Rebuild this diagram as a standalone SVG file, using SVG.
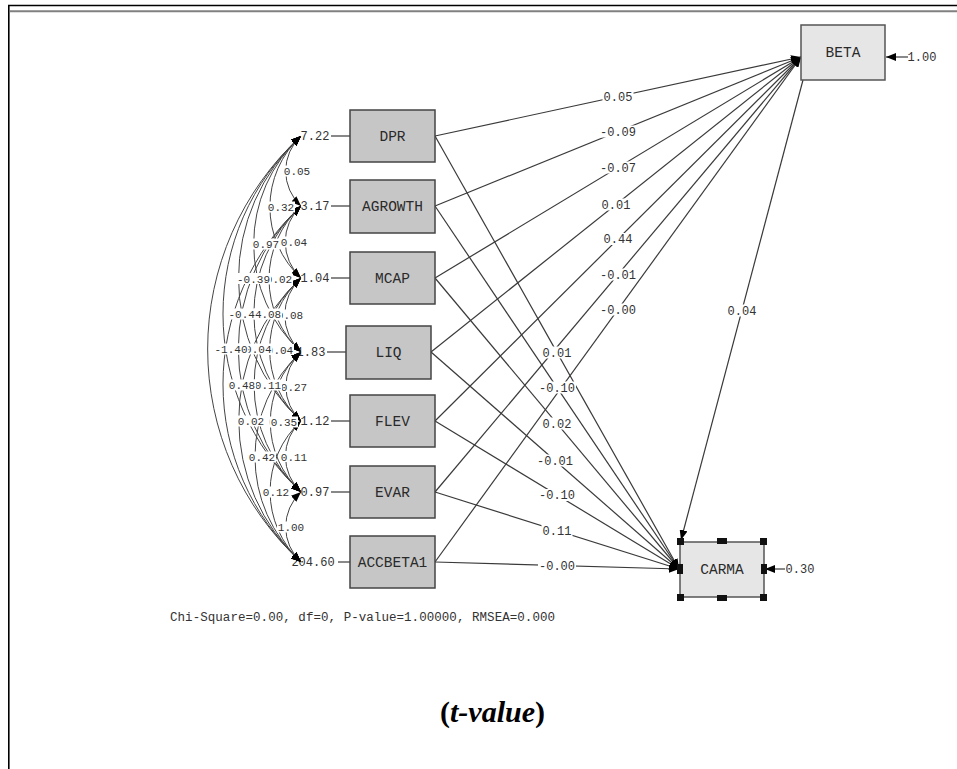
<svg xmlns="http://www.w3.org/2000/svg" width="957" height="769" viewBox="0 0 957 769">
<style>
.exo{fill:#c6c6c6;stroke:#444;stroke-width:1.5}
.endo{fill:#e6e6e6;stroke:#555;stroke-width:1.5}
.nl{font-family:"Liberation Mono",monospace;font-size:14.5px;fill:#2a2a2a;text-anchor:middle}
.t{font-family:"Liberation Mono",monospace;font-size:12px;fill:#333;text-anchor:middle}
.c{font-family:"Liberation Mono",monospace;font-size:11px;fill:#333;text-anchor:middle}
.bg{fill:#fff}
.ln{stroke:#3a3a3a;stroke-width:1.2;fill:none}
.arc{stroke:#444;stroke-width:1;fill:none;marker-start:url(#ah);marker-end:url(#ah)}
.hd{fill:#111}
</style>
<defs>
<marker id="ah" viewBox="0 0 10 8" refX="10" refY="4" markerWidth="10" markerHeight="8" markerUnits="userSpaceOnUse" orient="auto-start-reverse"><path d="M0,0 L10,4 L0,8 z" fill="#000"/></marker>
</defs>
<rect x="0" y="0" width="957" height="769" fill="#fff"/>
<g id="frame">
<line x1="8" y1="5.5" x2="957" y2="5.5" stroke="#000" stroke-width="1.5"/>
<line x1="10" y1="11.3" x2="957" y2="11.3" stroke="#808080" stroke-width="2"/>
<line x1="8.8" y1="5" x2="8.8" y2="769" stroke="#000" stroke-width="1.6"/>
</g>
<g id="error-labels">
<text class="t" x="315" y="140">7.22</text>
<text class="t" x="315" y="210">3.17</text>
<text class="t" x="315" y="282">1.04</text>
<text class="t" x="311" y="356">1.83</text>
<text class="t" x="315" y="425">1.12</text>
<text class="t" x="315" y="496">0.97</text>
<text class="t" x="313" y="566">204.60</text>
<text class="t" x="922" y="61">1.00</text>
<text class="t" x="800" y="573">0.30</text>
</g>
<g id="connectors">
<line class="ln" x1="331" y1="136" x2="350" y2="136"/>
<line class="ln" x1="331" y1="206" x2="350" y2="206"/>
<line class="ln" x1="331" y1="278" x2="350" y2="278"/>
<line class="ln" x1="327" y1="352" x2="346" y2="352"/>
<line class="ln" x1="331" y1="421" x2="350" y2="421"/>
<line class="ln" x1="331" y1="492" x2="350" y2="492"/>
<line class="ln" x1="338" y1="562" x2="350" y2="562"/>
<path class="arc" d="M301,136 A47.6,47.6 0 0 0 301,206"/>
<path class="arc" d="M301,136 A96.6,96.6 0 0 0 301,278"/>
<path class="arc" d="M301,136 A146.9,146.9 0 0 0 301,352"/>
<path class="arc" d="M301,136 A193.8,193.8 0 0 0 301,421"/>
<path class="arc" d="M301,136 A242.1,242.1 0 0 0 301,492"/>
<path class="arc" d="M301,136 A289.7,289.7 0 0 0 301,562"/>
<path class="arc" d="M301,206 A49,49 0 0 0 301,278"/>
<path class="arc" d="M301,206 A99.3,99.3 0 0 0 301,352"/>
<path class="arc" d="M301,206 A146.2,146.2 0 0 0 301,421"/>
<path class="arc" d="M301,206 A194.5,194.5 0 0 0 301,492"/>
<path class="arc" d="M301,206 A242.1,242.1 0 0 0 301,562"/>
<path class="arc" d="M301,278 A50.3,50.3 0 0 0 301,352"/>
<path class="arc" d="M301,278 A97.2,97.2 0 0 0 301,421"/>
<path class="arc" d="M301,278 A145.5,145.5 0 0 0 301,492"/>
<path class="arc" d="M301,278 A193.1,193.1 0 0 0 301,562"/>
<path class="arc" d="M301,352 A46.9,46.9 0 0 0 301,421"/>
<path class="arc" d="M301,352 A95.2,95.2 0 0 0 301,492"/>
<path class="arc" d="M301,352 A142.8,142.8 0 0 0 301,562"/>
<path class="arc" d="M301,421 A48.3,48.3 0 0 0 301,492"/>
<path class="arc" d="M301,421 A95.9,95.9 0 0 0 301,562"/>
<path class="arc" d="M301,492 A47.6,47.6 0 0 0 301,562"/>
<line class="ln" x1="435" y1="136" x2="801" y2="57" marker-end="url(#ah)"/>
<line class="ln" x1="435" y1="206" x2="801" y2="57" marker-end="url(#ah)"/>
<line class="ln" x1="435" y1="278" x2="801" y2="57" marker-end="url(#ah)"/>
<line class="ln" x1="431" y1="352" x2="801" y2="57" marker-end="url(#ah)"/>
<line class="ln" x1="435" y1="421" x2="801" y2="57" marker-end="url(#ah)"/>
<line class="ln" x1="435" y1="492" x2="801" y2="57" marker-end="url(#ah)"/>
<line class="ln" x1="435" y1="562" x2="801" y2="57" marker-end="url(#ah)"/>
<line class="ln" x1="435" y1="136" x2="679" y2="569" marker-end="url(#ah)"/>
<line class="ln" x1="435" y1="206" x2="679" y2="569" marker-end="url(#ah)"/>
<line class="ln" x1="435" y1="278" x2="679" y2="569" marker-end="url(#ah)"/>
<line class="ln" x1="431" y1="352" x2="679" y2="569" marker-end="url(#ah)"/>
<line class="ln" x1="435" y1="421" x2="679" y2="569" marker-end="url(#ah)"/>
<line class="ln" x1="435" y1="492" x2="679" y2="569" marker-end="url(#ah)"/>
<line class="ln" x1="435" y1="562" x2="679" y2="569" marker-end="url(#ah)"/>
<line class="ln" x1="803" y1="80" x2="681" y2="540" marker-end="url(#ah)"/>
<line class="ln" x1="908" y1="57" x2="886" y2="57" marker-end="url(#ah)"/>
<line class="ln" x1="785" y1="569" x2="765" y2="569" marker-end="url(#ah)"/>
</g>
<g id="path-labels">
<rect class="bg" x="602.5" y="90.5" width="31" height="12"/><text class="t" x="618" y="100.5">0.05</text>
<rect class="bg" x="599" y="125.5" width="38" height="12"/><text class="t" x="618" y="135.5">-0.09</text>
<rect class="bg" x="599" y="161.5" width="38" height="12"/><text class="t" x="618" y="171.5">-0.07</text>
<rect class="bg" x="600.5" y="198.5" width="31" height="12"/><text class="t" x="616" y="208.5">0.01</text>
<rect class="bg" x="602.5" y="233" width="31" height="12"/><text class="t" x="618" y="243">0.44</text>
<rect class="bg" x="599" y="268.5" width="38" height="12"/><text class="t" x="618" y="278.5">-0.01</text>
<rect class="bg" x="599" y="303.5" width="38" height="12"/><text class="t" x="618" y="313.5">-0.00</text>
<rect class="bg" x="541.5" y="346.5" width="31" height="12"/><text class="t" x="557" y="356.5">0.01</text>
<rect class="bg" x="538" y="381.5" width="38" height="12"/><text class="t" x="557" y="391.5">-0.10</text>
<rect class="bg" x="541.5" y="417.5" width="31" height="12"/><text class="t" x="557" y="427.5">0.02</text>
<rect class="bg" x="536" y="454.5" width="38" height="12"/><text class="t" x="555" y="464.5">-0.01</text>
<rect class="bg" x="538" y="489" width="38" height="12"/><text class="t" x="557" y="499">-0.10</text>
<rect class="bg" x="541.5" y="524.5" width="31" height="12"/><text class="t" x="557" y="534.5">0.11</text>
<rect class="bg" x="538" y="559.5" width="38" height="12"/><text class="t" x="557" y="569.5">-0.00</text>
<rect class="bg" x="726.5" y="304.5" width="31" height="12"/><text class="t" x="742" y="314.5">0.04</text>
</g>
<g id="cov-labels">
<rect class="bg" x="283" y="165.5" width="28" height="11"/><text class="c" x="297" y="175">0.05</text>
<rect class="bg" x="280" y="236.5" width="28" height="11"/><text class="c" x="294" y="246">0.04</text>
<rect class="bg" x="276" y="309.5" width="28" height="11"/><text class="c" x="290" y="319">0.08</text>
<rect class="bg" x="280" y="381" width="28" height="11"/><text class="c" x="294" y="390.5">0.27</text>
<rect class="bg" x="280" y="451" width="28" height="11"/><text class="c" x="294" y="460.5">0.11</text>
<rect class="bg" x="277" y="521.5" width="28" height="11"/><text class="c" x="291" y="531">1.00</text>
<rect class="bg" x="267" y="201.5" width="28" height="11"/><text class="c" x="281" y="211">0.32</text>
<rect class="bg" x="265" y="273.5" width="28" height="11"/><text class="c" x="279" y="283">0.02</text>
<rect class="bg" x="266" y="344" width="28" height="11"/><text class="c" x="280" y="353.5">0.04</text>
<rect class="bg" x="270" y="416.5" width="28" height="11"/><text class="c" x="284" y="426">0.35</text>
<rect class="bg" x="262" y="486.5" width="28" height="11"/><text class="c" x="276" y="496">0.12</text>
<rect class="bg" x="252" y="238.5" width="28" height="11"/><text class="c" x="266" y="248">0.97</text>
<rect class="bg" x="254" y="308.5" width="28" height="11"/><text class="c" x="268" y="318">0.08</text>
<rect class="bg" x="254" y="379.5" width="28" height="11"/><text class="c" x="268" y="389">0.11</text>
<rect class="bg" x="248" y="451.5" width="28" height="11"/><text class="c" x="262" y="461">0.42</text>
<rect class="bg" x="236" y="273" width="35" height="11"/><text class="c" x="253.5" y="282.5">-0.39</text>
<rect class="bg" x="237.5" y="343.5" width="35" height="11"/><text class="c" x="255" y="353">-0.04</text>
<rect class="bg" x="237" y="415.5" width="28" height="11"/><text class="c" x="251" y="425">0.02</text>
<rect class="bg" x="227.5" y="308.5" width="35" height="11"/><text class="c" x="245" y="318">-0.44</text>
<rect class="bg" x="228" y="379.5" width="28" height="11"/><text class="c" x="242" y="389">0.48</text>
<rect class="bg" x="213.5" y="343.5" width="35" height="11"/><text class="c" x="231" y="353">-1.40</text>
</g>
<g id="DPR"><rect class="exo" x="350" y="110" width="85" height="52"/><text class="nl" x="392.5" y="141">DPR</text></g>
<g id="AGROWTH"><rect class="exo" x="350" y="180" width="85" height="53"/><text class="nl" x="392.5" y="211">AGROWTH</text></g>
<g id="MCAP"><rect class="exo" x="350" y="252" width="85" height="52"/><text class="nl" x="392.5" y="283">MCAP</text></g>
<g id="LIQ"><rect class="exo" x="346" y="326" width="85" height="53"/><text class="nl" x="388.5" y="357">LIQ</text></g>
<g id="FLEV"><rect class="exo" x="350" y="395" width="85" height="52"/><text class="nl" x="392.5" y="426">FLEV</text></g>
<g id="EVAR"><rect class="exo" x="350" y="466" width="85" height="52"/><text class="nl" x="392.5" y="497">EVAR</text></g>
<g id="ACCBETA1"><rect class="exo" x="350" y="536" width="85" height="52"/><text class="nl" x="392.5" y="567">ACCBETA1</text></g>
<g id="BETA"><rect class="endo" x="801" y="25" width="84" height="55"/><text class="nl" x="843" y="57">BETA</text></g>
<g id="CARMA"><rect class="endo" x="680" y="542" width="84" height="55"/><text class="nl" x="722" y="574">CARMA</text>
<rect class="hd" x="677" y="538" width="7" height="7"/><rect class="hd" x="760" y="538" width="7" height="7"/><rect class="hd" x="677" y="594" width="7" height="7"/><rect class="hd" x="760" y="594" width="7" height="7"/>
<rect class="hd" x="717" y="538" width="10" height="6"/><rect class="hd" x="717" y="595" width="10" height="6"/><rect class="hd" x="677" y="564" width="6" height="10"/><rect class="hd" x="761" y="564" width="6" height="10"/>
</g>
<text x="170" y="621" font-family="Liberation Mono, monospace" font-size="12.5" fill="#333" textLength="385" lengthAdjust="spacing">Chi-Square=0.00, df=0, P-value=1.00000, RMSEA=0.000</text>
<text x="492.5" y="722" text-anchor="middle" font-family="Liberation Serif, serif" font-size="30" font-weight="bold" fill="#000">(<tspan font-style="italic">t-value</tspan>)</text>
</svg>
